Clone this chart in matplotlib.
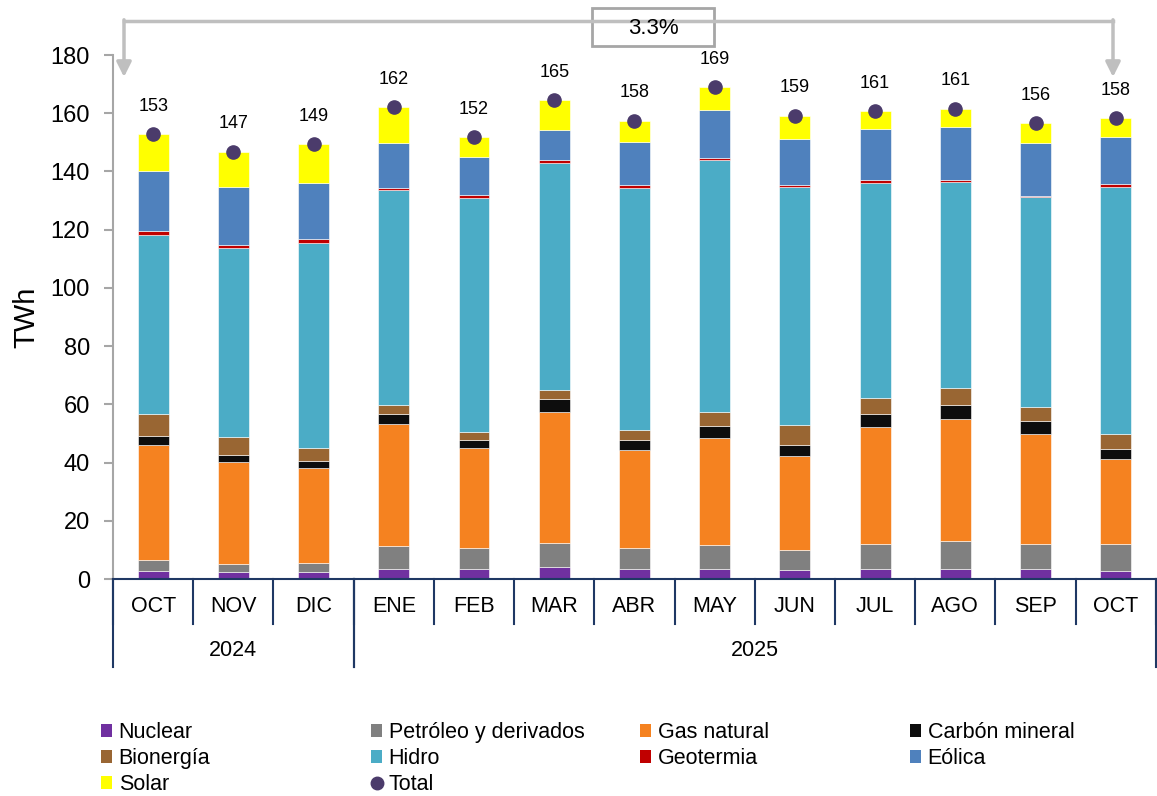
import numpy as np
import matplotlib
matplotlib.use('Agg')
import matplotlib.pyplot as plt
from matplotlib.lines import Line2D
from matplotlib.patches import Patch, Rectangle
import matplotlib.transforms as mtransforms

plt.rcParams['font.family'] = ['Liberation Sans', 'DejaVu Sans']

months = ['OCT', 'NOV', 'DIC', 'ENE', 'FEB', 'MAR', 'ABR', 'MAY', 'JUN', 'JUL', 'AGO', 'SEP', 'OCT']
years = ['2024', '2025']
year_spans = [(0, 2), (3, 12)]

# TWh per source
nuclear   = [2.7, 2.3, 2.3, 3.4, 3.4, 4.0, 3.4, 3.4, 3.1, 3.4, 3.5, 3.4, 2.7]
petroleo  = [3.7, 2.9, 3.2, 7.9, 7.4, 8.4, 7.4, 8.2, 6.9, 8.7, 9.5, 8.7, 9.4]
gas       = [39.5, 35.0, 32.7, 42.0, 34.3, 44.9, 33.5, 36.7, 32.3, 40.0, 41.9, 37.6, 29.0]
carbon    = [3.3, 2.5, 2.5, 3.3, 2.8, 4.7, 3.3, 4.1, 3.6, 4.5, 5.0, 4.5, 3.7]
bioenergia = [7.4, 6.2, 4.4, 3.3, 2.6, 3.0, 3.7, 5.0, 7.1, 5.7, 5.7, 4.9, 4.9]
hidro     = [61.7, 64.9, 70.3, 73.7, 80.5, 78.0, 83.1, 86.7, 81.7, 73.8, 70.8, 72.0, 85.0]
geotermia = [1.2, 0.8, 1.4, 0.8, 0.8, 0.8, 0.8, 0.6, 0.5, 0.8, 0.5, 0.4, 0.9]
eolica    = [20.6, 19.9, 19.3, 15.3, 13.3, 10.5, 14.9, 16.4, 16.1, 17.7, 18.2, 18.2, 16.1]
solar     = [12.6, 12.3, 13.2, 12.4, 6.6, 10.3, 7.4, 7.9, 7.9, 6.2, 6.5, 6.9, 6.6]
total_labels = [153, 147, 149, 162, 152, 165, 158, 169, 159, 161, 161, 156, 158]
change_label = '3.3%'

series = [
    ('Nuclear', nuclear, '#7030A0'),
    ('Petróleo y derivados', petroleo, '#808080'),
    ('Gas natural', gas, '#F58220'),
    ('Carbón mineral', carbon, '#0D0D0D'),
    ('Bionergía', bioenergia, '#996633'),
    ('Hidro', hidro, '#4BACC6'),
    ('Geotermia', geotermia, '#C00000'),
    ('Eólica', eolica, '#4F81BD'),
    ('Solar', solar, '#FFFF00'),
]
dot_color = '#4B3B6B'
navy = '#1F3864'

fig = plt.figure(figsize=(11.57, 7.96), dpi=100)
ax = fig.add_axes([0.0977, 0.2726, 0.9013, 0.6583])

x = np.arange(len(months))
bottom = np.zeros(len(months))
for name, vals, col in series:
    ax.bar(x, vals, 0.385, bottom=bottom, color=col, edgecolor='white', linewidth=0.4)
    bottom += np.array(vals)

ax.plot(x, bottom, 'o', color=dot_color, markersize=9.5, zorder=5)
for xi, yi, lab in zip(x, bottom, total_labels):
    ax.annotate(str(lab), (xi, yi), xytext=(0, 20), textcoords='offset points',
                ha='center', va='center', fontsize=13)

ax.set_xlim(-0.5, 12.5)
ax.set_ylim(0, 180)
ax.set_yticks(range(0, 181, 20))
ax.tick_params(axis='y', labelsize=17, color='#A6A6A6', width=1.5, length=6.5, pad=10,
               direction='out')
ax.set_xticks([])
for s in ['top', 'right']:
    ax.spines[s].set_visible(False)
ax.spines['left'].set_color('#A6A6A6')
ax.spines['left'].set_linewidth(1.5)
ax.spines['bottom'].set_color(navy)
ax.spines['bottom'].set_linewidth(1.5)
ax.set_ylabel('TWh', fontsize=21)
ax.yaxis.set_label_coords(-0.070, 0.5)

# two-level category axis
trans = mtransforms.blended_transform_factory(ax.transData, ax.transAxes)
for xi, m in zip(x, months):
    ax.text(xi, -0.0534, m, transform=trans, ha='center', va='center', fontsize=15.5)
for i in range(len(months) + 1):
    ax.plot([i - 0.5, i - 0.5], [0, -0.0859], transform=trans, color=navy, lw=1.5, clip_on=False)
for (a, b), yr in zip(year_spans, years):
    ax.text((a + b) / 2, -0.137, yr, transform=trans, ha='center', va='center', fontsize=15.5)
    for edge in (a - 0.5, b + 0.5):
        ax.plot([edge, edge], [0, -0.168], transform=trans, color=navy, lw=1.5, clip_on=False)

# change bracket at the top
gray = '#BFBFBF'
xl, xr = 124 / 1157, 1113 / 1157
ytop, ytip = 1 - 21 / 796, 1 - 77 / 796
fig.add_artist(Line2D([xl, xr], [ytop, ytop], transform=fig.transFigure, color=gray, lw=2.5))
for xx in (xl, xr):
    ax.annotate('', xy=(xx, ytip), xytext=(xx, ytop + 0.0015), xycoords='figure fraction',
                arrowprops=dict(arrowstyle='-|>', color=gray, lw=2.5, mutation_scale=22,
                                shrinkA=0, shrinkB=0))
fig.add_artist(Rectangle((592 / 1157, 1 - 46 / 796), 122 / 1157, 38 / 796,
                         transform=fig.transFigure, facecolor='white', edgecolor='#A6A6A6', lw=2))
fig.text(653 / 1157, 1 - 28 / 796, change_label, ha='center', va='center', fontsize=16)

# legend in four fixed columns
handles = [Patch(facecolor=c, label=n) for n, v, c in series]
handles.append(Line2D([], [], marker='o', color=dot_color, linestyle='', markersize=9, label='Total'))
cols = [[0, 4, 8], [1, 5, 9], [2, 6], [3, 7]]
col_x = [101, 371, 640, 910]
for cx, idx in zip(col_x, cols):
    fig.legend(handles=[handles[i] for i in idx], loc='upper left',
               bbox_to_anchor=(cx / 1157, 1 - 722 / 796), frameon=False,
               fontsize=15.5, handlelength=0.52, handleheight=0.55, handletextpad=0.3,
               labelspacing=0.24, borderpad=0, borderaxespad=0)

fig.savefig('out.png', dpi=100)
